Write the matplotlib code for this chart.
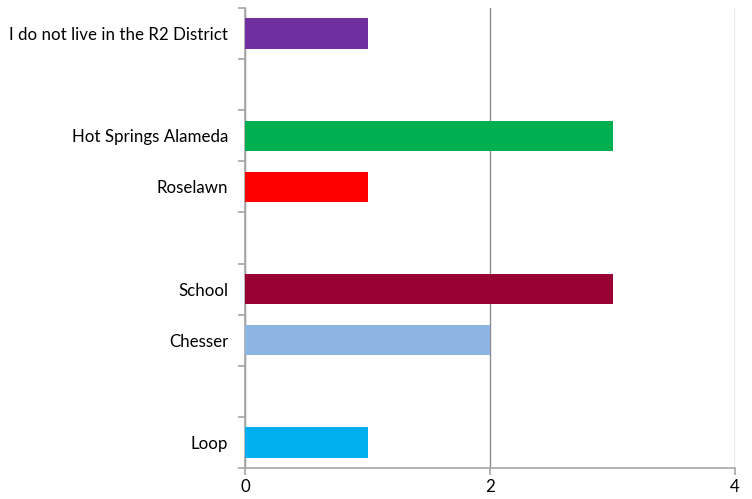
import matplotlib.pyplot as plt
import numpy as np

plt.rcParams['font.family'] = ['Lato', 'DejaVu Sans']

# categories from bottom to top; blank slots are left empty
labels = ["Loop", "", "Chesser", "School", "", "Roselawn",
          "Hot Springs Alameda", "", "I do not live in the R2 District"]
values = [1, None, 2, 3, None, 1, 3, None, 1]
colors = ["#00B0F0", None, "#8EB4E3", "#990033", None, "#FF0000",
          "#00B050", None, "#7030A0"]

fig = plt.figure(figsize=(7.52, 4.99), dpi=100)
ax = fig.add_axes([0.3258, 0.0621, 0.6516, 0.9219])

pos = np.arange(len(labels))
for p, v, c in zip(pos, values, colors):
    if v is not None:
        ax.barh(p, v, height=0.59, color=c, zorder=3)

ax.set_xlim(0, 4)
ax.set_ylim(-0.5, len(labels) - 0.5)
ax.set_xticks([0, 2, 4])
ax.set_xticklabels(["0", "2", "4"])
ax.set_yticks(pos)
ax.set_yticklabels(labels)
ax.set_yticks(np.arange(-0.5, len(labels)), minor=True)

grey = "#A6A6A6"
ax.xaxis.grid(True, color="#8C8C8C", linewidth=1, zorder=0)
for s in ["top", "right"]:
    ax.spines[s].set_visible(False)
for s in ["left", "bottom"]:
    ax.spines[s].set_color(grey)
    ax.spines[s].set_linewidth(1.2)

ax.tick_params(axis="y", which="major", length=0, pad=12, labelsize=12.2)
ax.tick_params(axis="y", which="minor", length=5, color=grey, width=1.2)
ax.tick_params(axis="x", length=5, color=grey, width=1.2, labelsize=12.2, pad=3)

plt.savefig("out.png", dpi=100)
